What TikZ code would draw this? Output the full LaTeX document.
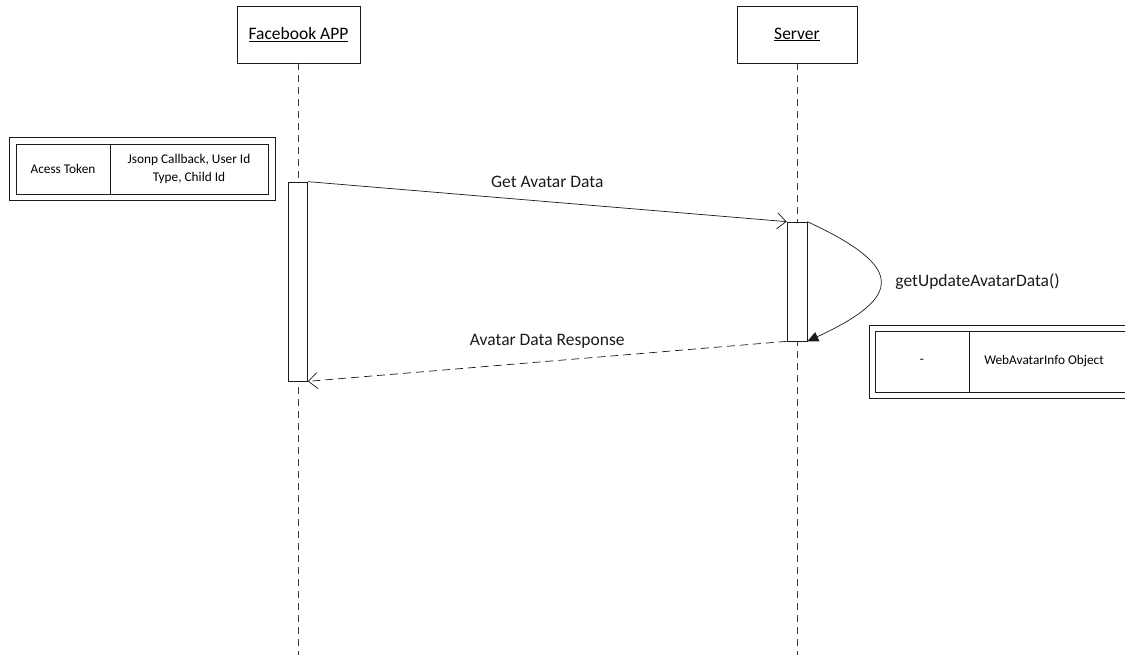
\documentclass[tikz,border=0pt]{standalone}
\usepackage{fontspec}
\setmainfont{Carlito}
\usetikzlibrary{positioning, arrows.meta, fit}
\definecolor{inkBlack}{HTML}{1A1A1A}
\definecolor{lineGrey}{HTML}{3A3A3A}
\tikzset{
  head/.style  = {draw=inkBlack, line width=0.9pt, fill=white, minimum height=57pt,
                  font=\fontsize{17.5}{20}\selectfont},
  bar/.style   = {draw=inkBlack, line width=0.7pt, fill=white, minimum width=19pt},
  life/.style  = {draw=lineGrey, line width=0.7pt, dash pattern=on 7pt off 5pt},
  cell/.style  = {draw=inkBlack, line width=0.9pt, minimum height=50pt, align=center,
                  font=\fontsize{13.3}{18}\selectfont, inner sep=2pt},
  frame/.style = {draw=inkBlack, line width=0.9pt, inner sep=6.5pt},
  msg/.style   = {-{Straight Barb[length=9pt, width=16pt]}, draw=inkBlack, line width=0.7pt},
  ret/.style   = {msg, dash pattern=on 8pt off 5pt},
  self/.style  = {-{Triangle[length=11pt, width=10pt]}, draw=inkBlack, line width=0.7pt},
  lbl/.style   = {font=\fontsize{17.5}{20}\selectfont, text=inkBlack, inner sep=2pt}
}
\begin{document}
\begin{tikzpicture}[x=1pt, y=-1pt]
  \useasboundingbox (0,0) rectangle (1125,655);
  % lifeline heads
  \node[head, minimum width=123pt] (fb) at (298.5,34.5) {\underline{Facebook APP}};
  \node[head, minimum width=120pt] (srv) at (797,34.5) {\underline{Server}};
  \coordinate (fbend) at (fb.south |- 0,655);
  \coordinate (srvend) at (srv.south |- 0,655);
  \draw[life] (fb.south) -- (fbend);
  \draw[life] (srv.south) -- (srvend);
  % activation bars
  \node[bar, minimum height=199pt] (fbbar) at (298,281.5) {};
  \node[bar, minimum height=119pt, minimum width=20pt] (srvbar) at (797,281.5) {};
  % messages
  \draw[msg] (fbbar.north east) -- node[lbl, midway, above=12pt] (getlbl) {Get Avatar Data} (srvbar.north west);
  \draw[self] (srvbar.north east) .. controls +(97,45) and +(97,-45) .. (srvbar.south east)
    node[lbl, pos=0.5, right=13pt] (updlbl) {getUpdateAvatarData()};
  \draw[ret] (srvbar.south west) -- node[lbl, midway, above=11pt] (reslbl) {Avatar Data Response} (fbbar.south east);
  % request parameters
  \node[cell, minimum width=94pt] (token) at (63,169) {Acess Token};
  \node[cell, minimum width=158pt, right=-0.9pt of token] (params) {Jsonp Callback, User Id\\Type, Child Id};
  \node[frame, fit=(token) (params)] (reqbox) {};
  % response object
  \node[cell, minimum width=94pt, minimum height=61pt] (dash) at (922,361.5) {-};
  \node[cell, minimum width=170pt, minimum height=61pt, right=-0.9pt of dash] (info) {\hspace*{-10pt}WebAvatarInfo Object\hspace*{10pt}};
  \node[frame, inner sep=5.5pt, fit=(dash) (info)] (resbox) {};
\end{tikzpicture}
\end{document}
